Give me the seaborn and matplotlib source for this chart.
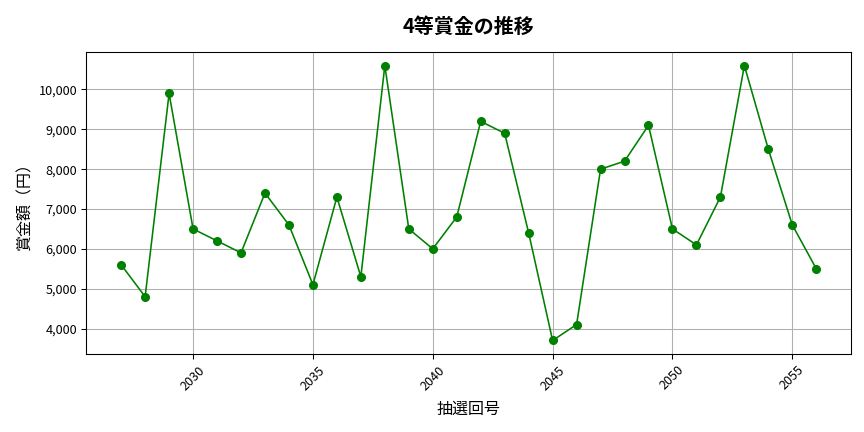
import matplotlib
matplotlib.use("Agg")
import matplotlib.pyplot as plt
import matplotlib.ticker as mticker
import seaborn as sns
import pandas as pd

draws = list(range(2027, 2057))
prizes = [5600, 4800, 9900, 6500, 6200, 5900, 7400, 6600, 5100, 7300,
          5300, 10600, 6500, 6000, 6800, 9200, 8900, 6400, 3700, 4100,
          8000, 8200, 9100, 6500, 6100, 7300, 10600, 8500, 6600, 5500]
title = "4等賞金の推移"
xlabel = "抽選回号"
ylabel = "賞金額（円）"

plt.rcParams['font.family'] = ['Noto Sans CJK JP', 'DejaVu Sans']

df = pd.DataFrame({"draw": draws, "prize": prizes})

fig, ax = plt.subplots(figsize=(9, 4.5), dpi=96)
fig.subplots_adjust(left=0.1, right=0.985, top=0.88, bottom=0.18)
sns.lineplot(data=df, x="draw", y="prize", ax=ax, color="green",
             marker="o", markersize=6, markeredgecolor="green", linewidth=1.2)
ax.set_title(title, fontsize=15, fontweight="bold", pad=14)
ax.set_xlabel(xlabel, fontsize=12, labelpad=6)
ax.set_ylabel(ylabel, fontsize=12, labelpad=4)
ax.yaxis.set_major_formatter(mticker.FuncFormatter(lambda v, p: f"{int(v):,}"))
ax.tick_params(axis="x", rotation=45, labelsize=9.5)
ax.tick_params(axis="y", labelsize=9.5)
ax.grid(True, color="#b0b0b0", linewidth=0.8)
ax.set_axisbelow(True)
fig.savefig("out.png", dpi=96)
